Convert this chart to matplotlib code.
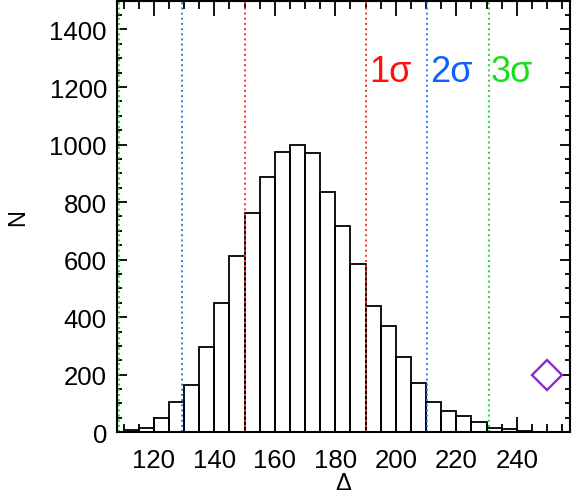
import numpy as np
import matplotlib
matplotlib.use('Agg')
import matplotlib.pyplot as plt
from matplotlib.ticker import MultipleLocator

plt.rcParams['font.family'] = ['Liberation Sans', 'DejaVu Sans']

# histogram bins (left edges, width 5) and counts
edges = np.arange(110, 255, 5)
counts = [6, 14, 50, 106, 164, 296, 448, 611, 761, 886, 975, 998, 969, 834,
          718, 586, 438, 368, 263, 170, 104, 75, 57, 34, 14, 10, 5, 2, 1]

# sigma lines
sig_red = [150.0, 190.2]
sig_blue = [129.4, 210.4]
sig_green = [108.3, 230.8]

# observed value
obs_x, obs_y = 250, 200

fig = plt.figure(figsize=(5.72, 5.02), dpi=100)
ax = fig.add_axes([0.204, 0.137, 0.7925, 0.8596])

ax.bar(edges, counts, width=5, align='edge', fill=False,
       edgecolor='black', linewidth=1.3)

for x in sig_red:
    ax.axvline(x, color='#ff3030', ls=':', lw=1.4)
for x in sig_blue:
    ax.axvline(x, color='#2f7bff', ls=':', lw=1.4)
for x in sig_green:
    ax.axvline(x, color='#20e020', ls=':', lw=1.4)

ax.plot(obs_x, obs_y, marker='D', ms=15, mfc='none', mec='#8a2bc8', mew=1.7)

ax.text(sig_red[1] + 1.0, 1222, '1σ', color='#ff1010', fontsize=26)
ax.text(sig_blue[1] + 1.0, 1222, '2σ', color='#1060ff', fontsize=26)
ax.text(sig_green[1] + 0.6, 1222, '3σ', color='#18e018', fontsize=26)

ax.set_xlim(107.7, 257.6)
ax.set_ylim(0, 1500)
ax.xaxis.set_major_locator(MultipleLocator(20))
ax.xaxis.set_minor_locator(MultipleLocator(5))
ax.yaxis.set_major_locator(MultipleLocator(200))
ax.yaxis.set_minor_locator(MultipleLocator(50))
ax.tick_params(axis='x', which='major', direction='in', top=True, length=11, width=1.3,
               labelsize=18.5, pad=11)
ax.tick_params(axis='x', which='minor', direction='in', top=True, length=5.5, width=1.3)
ax.tick_params(axis='y', which='major', direction='in', right=True, length=7.5, width=1.3,
               labelsize=18.5, pad=7)
ax.tick_params(axis='y', which='minor', direction='in', right=True, length=3.8, width=1.3)
for s in ax.spines.values():
    s.set_linewidth(1.5)

ax.set_xlabel('Δ', fontsize=17, labelpad=0)
ax.set_ylabel('N', fontsize=17, labelpad=15)

fig.savefig('out.png', dpi=100)
